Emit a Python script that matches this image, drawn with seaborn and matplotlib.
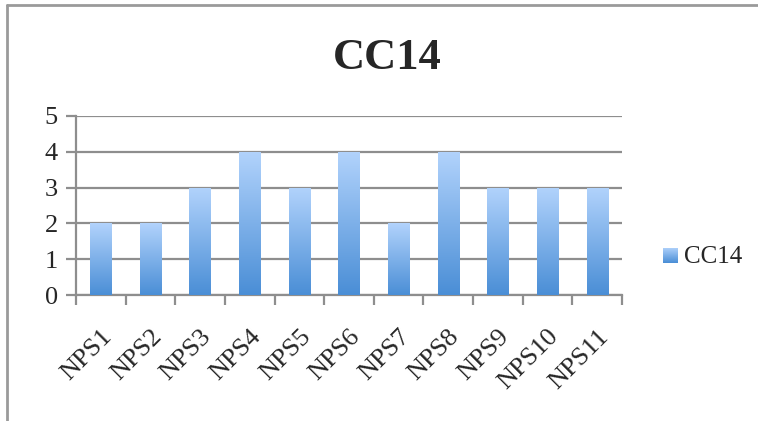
import numpy as np
import pandas as pd
import matplotlib
matplotlib.use('Agg')
import matplotlib.pyplot as plt
from matplotlib.lines import Line2D
from matplotlib.colors import LinearSegmentedColormap
import seaborn as sns

categories = ['NPS1', 'NPS2', 'NPS3', 'NPS4', 'NPS5', 'NPS6', 'NPS7', 'NPS8', 'NPS9', 'NPS10', 'NPS11']
values = [2, 2, 3, 4, 3, 4, 2, 4, 3, 3, 3]
series_name = 'CC14'
y_ticks = [0, 1, 2, 3, 4, 5]

df = pd.DataFrame({'NPS': categories, 'value': values})

sns.set_style('white')
plt.rcParams['font.family'] = ['Liberation Serif', 'DejaVu Serif']

grad = LinearSegmentedColormap.from_list('bar_grad', ['#4a8ed6', '#b2d3fc'])
gray = '#8e8e8e'

fig = plt.figure(figsize=(7.58, 4.21), dpi=100)
ax = fig.add_axes([76 / 758, 1 - 295 / 421, (622 - 76) / 758, (295 - 116) / 421])

sns.barplot(x='NPS', y='value', data=df, ax=ax, width=0.43, color='#7fb0ea', linewidth=0, zorder=3)

# gradient fill clipped to every bar
ax.set_ylim(0, 5)
ax.set_xlim(-0.5, len(categories) - 0.5)
for p in ax.patches:
    x0, y0 = p.get_x(), p.get_y()
    w, h = p.get_width(), p.get_height()
    img = ax.imshow(np.linspace(0, 1, 256).reshape(-1, 1), cmap=grad, origin='lower',
                    extent=[x0, x0 + w, y0, y0 + h], aspect='auto', zorder=4)
    img.set_clip_path(p)
ax.set_xlim(-0.5, len(categories) - 0.5)
ax.set_ylim(0, 5)

ax.set_yticks(y_ticks)
ax.grid(axis='y', color=gray, linewidth=1.6, zorder=0)
ax.set_axisbelow(True)
for s in ['top', 'right']:
    ax.spines[s].set_visible(False)
for s in ['left', 'bottom']:
    ax.spines[s].set_color(gray)
    ax.spines[s].set_linewidth(1.6)

ax.tick_params(axis='y', left=True, length=7, width=1.6, color=gray, labelsize=19, pad=6)
ax.set_xticks(np.arange(len(categories)))
ax.set_xticklabels(categories, rotation=45, ha='right', rotation_mode='anchor', fontsize=19)
ax.tick_params(axis='x', which='major', bottom=False, length=0, pad=22)
ax.set_xticks(np.arange(-0.5, len(categories)), minor=True)
ax.tick_params(axis='x', which='minor', bottom=True, length=7, width=1.6, color=gray)
ax.set_xlabel('')
ax.set_ylabel('')

fig.text(387 / 758, 1 - 58 / 421, series_name, ha='center', va='center', fontsize=32, fontweight='bold')

# legend with a small gradient square
lax = fig.add_axes([663 / 758, 1 - 263 / 421, 15 / 758, 15 / 421])
lax.imshow(np.linspace(0, 1, 64).reshape(-1, 1), cmap=grad, origin='lower', aspect='auto')
lax.axis('off')
fig.text(684 / 758, 1 - 257 / 421, series_name, ha='left', va='center', fontsize=18)

# chart frame (top and left edges)
fig.add_artist(Line2D([7 / 758, 1], [1 - 4.5 / 421, 1 - 4.5 / 421], color='#9a9a9a', linewidth=2, transform=fig.transFigure))
fig.add_artist(Line2D([7 / 758, 7 / 758], [0, 1 - 4.5 / 421], color='#9a9a9a', linewidth=2, transform=fig.transFigure))

fig.savefig('out.png', dpi=100)
